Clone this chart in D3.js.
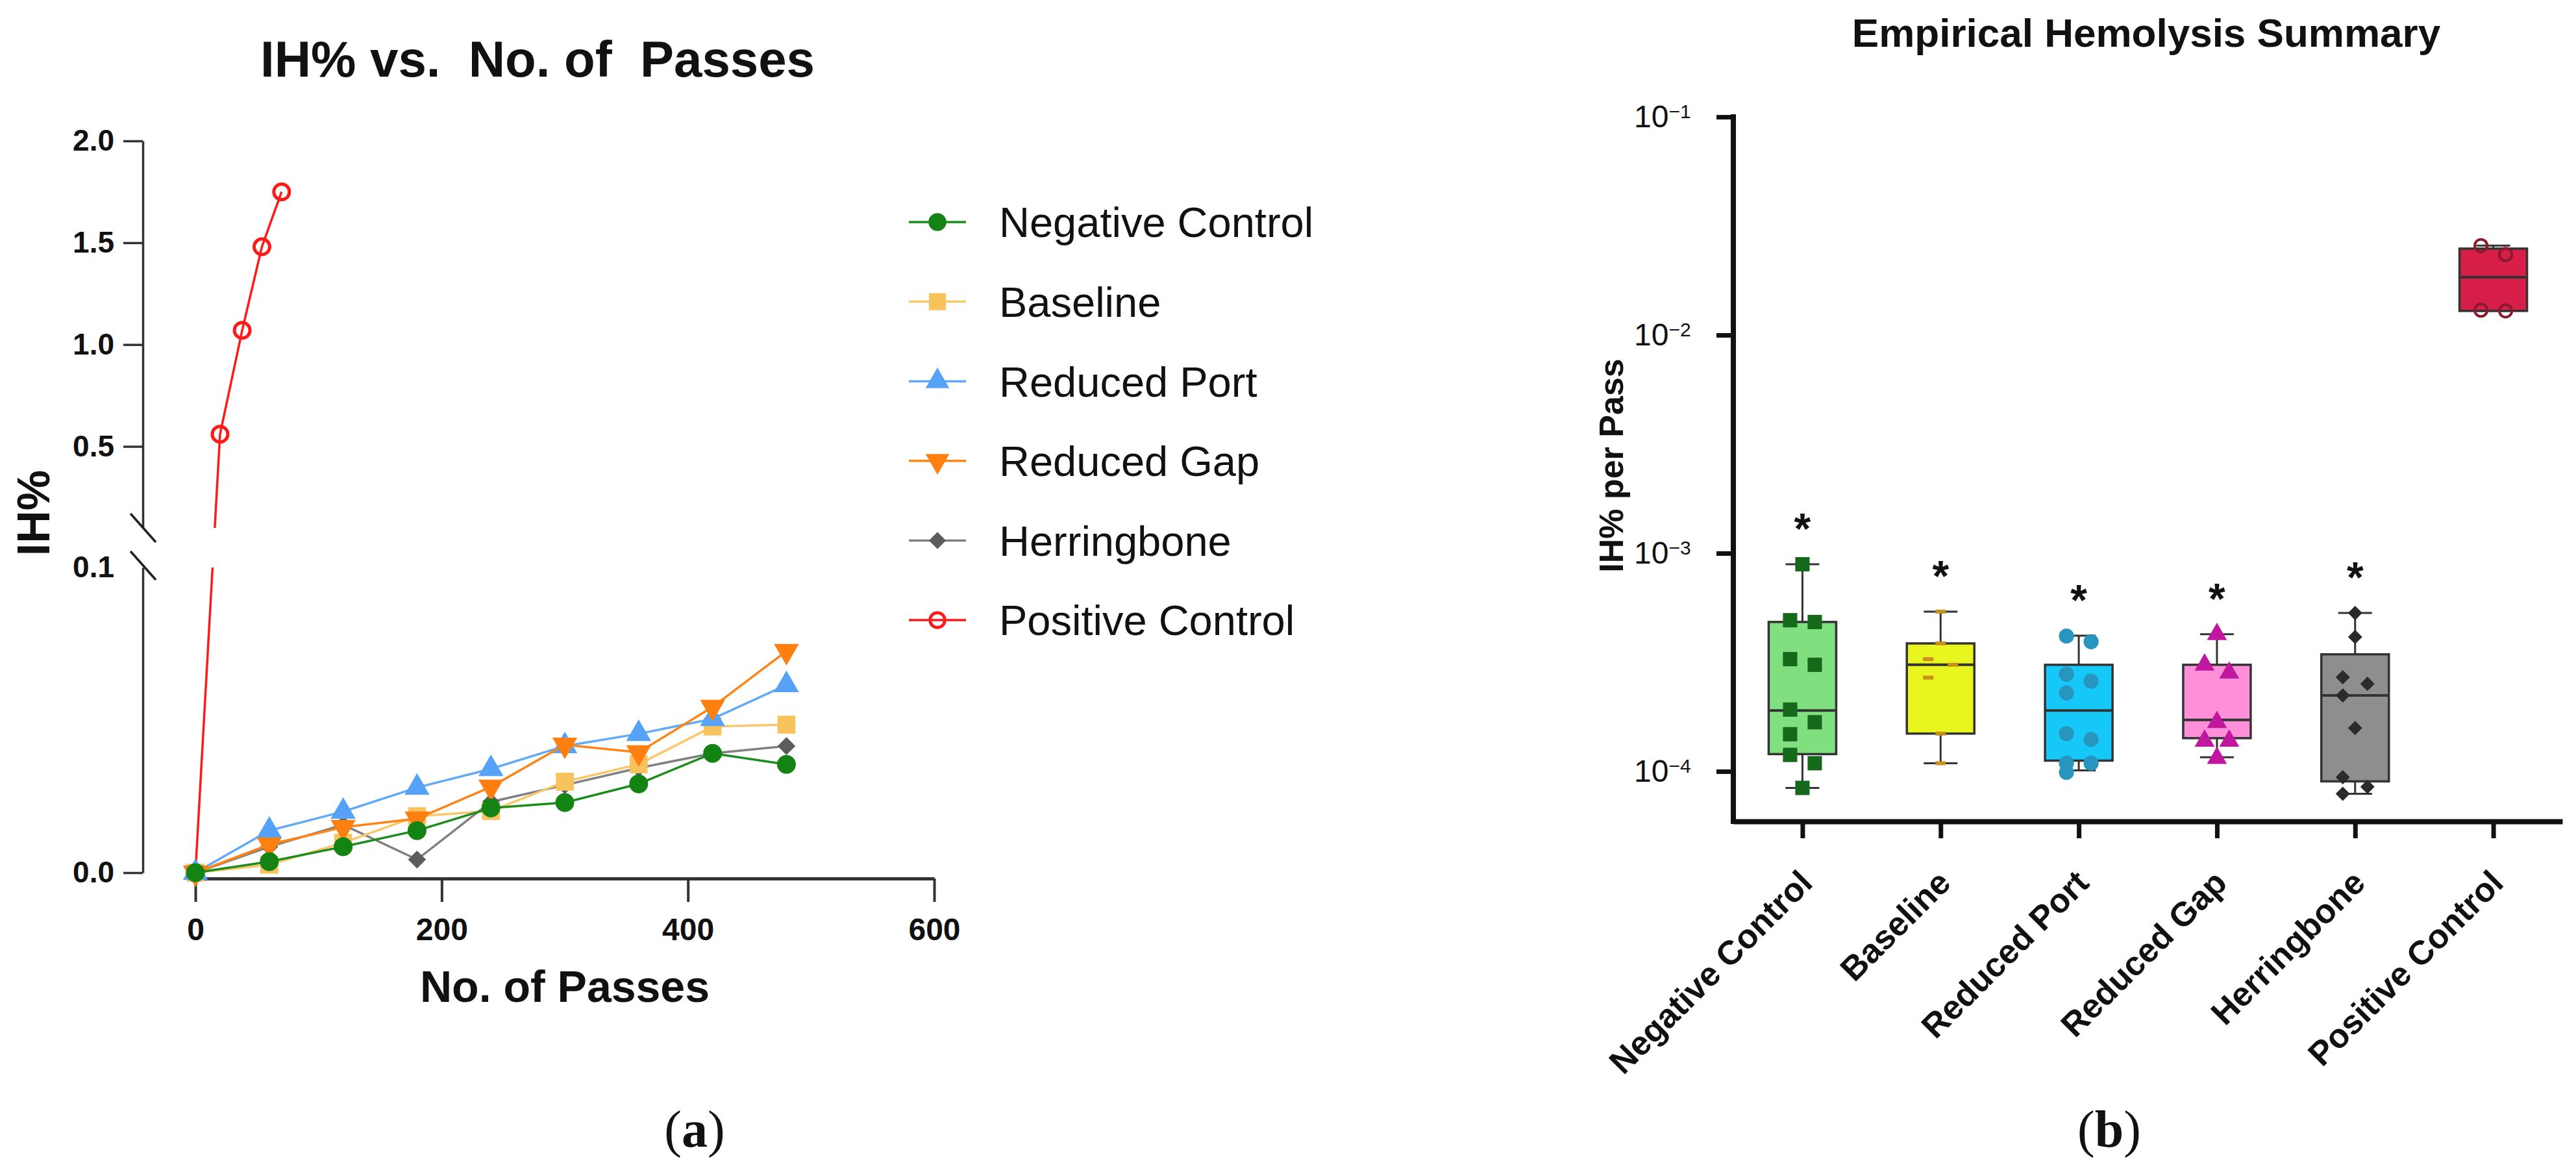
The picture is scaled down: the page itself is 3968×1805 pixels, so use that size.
<!DOCTYPE html>
<html>
<meta charset="utf-8">
<head>
  <title>IH% vs. No. of Passes / Empirical Hemolysis Summary</title>
</head>

<style>
body { margin: 0; background: white; }
text { font-family: "Liberation Sans", Arial, sans-serif; fill: #111; }
.axisL path, .axisL line { stroke: #333; }
.axisR path, .axisR line { stroke: #111; }
</style>

<body>
  <div id="chart"></div>

  <script src="https://d3js.org/d3.v7.min.js"></script>
  <script>

// ---------- panel (a): IH% vs. passes ----------
var passes = [0, 60, 120, 180, 240, 300, 360, 420, 480];
var negativeControl = [0, 0.0036, 0.0085, 0.0138, 0.0212, 0.0230, 0.0291, 0.0391, 0.0355];
var baseline = [0, 0.0026, 0.0098, 0.0185, 0.0202, 0.0298, 0.0355, 0.0479, 0.0485];
var reducedPort = [0, 0.0138, 0.0200, 0.0279, 0.0340, 0.0415, 0.0455, 0.0504, 0.0615];
var reducedGap = [0, 0.0092, 0.0149, 0.0177, 0.0281, 0.0419, 0.0394, 0.0543, 0.0726];
var herringbone = [0, 0.0085, 0.0157, 0.0043, 0.0232, 0.0287, 0.0343, 0.0391, 0.0415];
var positivePasses = [0, 20, 38, 54, 70];
var positiveControl = [0, 0.56, 1.07, 1.48, 1.75];
var upperTicks = [0.5, 1.0, 1.5, 2.0];
var lowerTicks = [0.0, 0.1];
var passTicks = [0, 200, 400, 600];
var legendNames = ["Negative Control", "Baseline", "Reduced Port", "Reduced Gap", "Herringbone", "Positive Control"];

// ---------- panel (b): hemolysis per pass ----------
var groups = ["Negative Control", "Baseline", "Reduced Port", "Reduced Gap", "Herringbone", "Positive Control"];
var whiskerLow = [8.4e-5, 1.09e-4, 1.01e-4, 1.16e-4, 7.9e-5, 1.29e-2];
var quartile1 = [1.20e-4, 1.49e-4, 1.12e-4, 1.42e-4, 9.0e-5, 1.29e-2];
var medians = [1.90e-4, 3.08e-4, 1.90e-4, 1.72e-4, 2.23e-4, 1.84e-2];
var quartile3 = [4.84e-4, 3.86e-4, 3.08e-4, 3.08e-4, 3.44e-4, 2.49e-2];
var whiskerHigh = [8.9e-4, 5.40e-4, 4.19e-4, 4.25e-4, 5.32e-4, 2.57e-2];
var pointsNegative = [8.9e-4, 4.93e-4, 4.84e-4, 3.27e-4, 3.08e-4, 1.92e-4, 1.68e-4, 1.48e-4, 1.19e-4, 1.09e-4, 8.4e-5];
var pointsBaseline = [5.40e-4, 3.86e-4, 3.27e-4, 3.08e-4, 2.69e-4, 1.49e-4, 1.09e-4];
var pointsPort = [4.17e-4, 3.93e-4, 2.79e-4, 2.59e-4, 2.29e-4, 1.49e-4, 1.40e-4, 1.09e-4, 1.09e-4, 9.9e-5];
var pointsGap = [4.25e-4, 3.08e-4, 2.83e-4, 1.68e-4, 1.38e-4, 1.38e-4, 1.15e-4];
var pointsHerring = [5.32e-4, 4.13e-4, 2.70e-4, 2.52e-4, 2.23e-4, 1.58e-4, 9.4e-5, 8.5e-5, 7.9e-5];
var pointsPositive = [2.57e-2, 2.34e-2, 1.30e-2, 1.29e-2];
var significance = ["*", "*", "*", "*", "*", ""];
var logTicks = [1e-4, 1e-3, 1e-2, 1e-1];

var svg = d3.select("#chart").append("svg")
  .attr("width", 3968)
  .attr("height", 1805);

svg.append("rect").attr("width", 3968).attr("height", 1805).attr("fill", "white");

// marker shapes shared by both panels
function addMarker(g, type, color, x, y, k) {
  if (type === "open") {
    g.append("circle").attr("cx", x).attr("cy", y).attr("r", 12 * k)
      .attr("fill", "none").attr("stroke", color).attr("stroke-width", 5 * k);
    return;
  }
  if (type === "dash") {
    g.append("rect").attr("x", x - 8).attr("y", y - 3).attr("width", 16).attr("height", 6)
      .attr("fill", color);
    return;
  }
  var shapes = {
    circle: [d3.symbolCircle, 660, 0],
    square: [d3.symbolSquare, 760, 0],
    triangle: [d3.symbolTriangle, 640, 0],
    down: [d3.symbolTriangle, 640, 180],
    diamond: [d3.symbolSquare, 380, 45]
  };
  var s = shapes[type];
  g.append("path")
    .attr("d", d3.symbol().type(s[0]).size(s[1] * k * k)())
    .attr("transform", "translate(" + x + "," + y + ") rotate(" + s[2] + ")")
    .attr("fill", color);
}

// ================= panel (a) =================
var xL = d3.scaleLinear().domain([0, 600]).range([301, 1439]);
var yUpper = d3.scaleLinear().domain([0.1, 2.0]).range([813, 217]);
var yLower = d3.scaleLinear().domain([0, 0.1]).range([1344, 874]);
function yL(v) { return v > 0.1 ? yUpper(v) : yLower(v); }

svg.append("text")
  .attr("x", 828).attr("y", 118)
  .attr("text-anchor", "middle")
  .style("font-size", "78px").style("font-weight", "bold").style("white-space", "pre")
  .text("IH% vs.  No. of  Passes");

// y axis in two segments
var upperAxis = svg.append("g").attr("class", "axisL")
  .attr("transform", "translate(220,0)")
  .call(d3.axisLeft(yUpper).tickValues(upperTicks).tickSize(30).tickSizeOuter(0)
    .tickPadding(14).tickFormat(d3.format(".1f")));
var lowerAxis = svg.append("g").attr("class", "axisL")
  .attr("transform", "translate(220,0)")
  .call(d3.axisLeft(yLower).tickValues(lowerTicks).tickSize(30).tickSizeOuter(0)
    .tickPadding(14).tickFormat(d3.format(".1f")));
lowerAxis.selectAll(".tick").filter(function(d) { return d > 0; }).select("line").remove();

svg.selectAll(".axisL path, .axisL line").attr("stroke-width", 3.5);
svg.selectAll(".axisL text")
  .style("font-size", "46px").style("font-weight", "bold").attr("fill", "#111");

// break marks
[yUpper(0.1), yLower(0.1) - 3].forEach(function(yb) {
  svg.append("line")
    .attr("x1", 201).attr("y1", yb - 22).attr("x2", 240).attr("y2", yb + 22)
    .attr("stroke", "#222").attr("stroke-width", 3.5);
});

var xAxisL = svg.append("g").attr("class", "axisL")
  .attr("transform", "translate(0,1353)")
  .call(d3.axisBottom(xL).tickValues(passTicks).tickSize(36).tickSizeOuter(0).tickPadding(25));
xAxisL.select(".domain").attr("stroke-width", 5);
xAxisL.selectAll("line").attr("stroke-width", 4);
xAxisL.selectAll("text").style("font-size", "48px").style("font-weight", "bold").attr("fill", "#111");

svg.append("text")
  .attr("transform", "translate(76,790) rotate(-90)")
  .attr("text-anchor", "middle")
  .style("font-size", "70px").style("font-weight", "bold")
  .text("IH%");

svg.append("text")
  .attr("x", 870).attr("y", 1543)
  .attr("text-anchor", "middle")
  .style("font-size", "68px").style("font-weight", "bold")
  .text("No. of Passes");

// clip away the axis break region
var clip = svg.append("defs").append("clipPath").attr("id", "brokenAxis");
clip.append("rect").attr("x", 225).attr("y", 150).attr("width", 1300).attr("height", yUpper(0.1) - 150);
clip.append("rect").attr("x", 225).attr("y", yLower(0.1)).attr("width", 1300).attr("height", 1420 - yLower(0.1));

var lineSeries = [
  {name: "Positive Control", x: positivePasses, y: positiveControl, line: "#ff1a1a", fill: "#ff1a1a", marker: "open"},
  {name: "Herringbone", x: passes, y: herringbone, line: "#808080", fill: "#5c5c5c", marker: "diamond"},
  {name: "Baseline", x: passes, y: baseline, line: "#f9c76a", fill: "#f8c25c", marker: "square"},
  {name: "Reduced Port", x: passes, y: reducedPort, line: "#62a9f7", fill: "#55a2f6", marker: "triangle"},
  {name: "Reduced Gap", x: passes, y: reducedGap, line: "#ff8418", fill: "#ff7f10", marker: "down"},
  {name: "Negative Control", x: passes, y: negativeControl, line: "#1c8c1c", fill: "#138413", marker: "circle"}
];

var plotA = svg.append("g").attr("clip-path", "url(#brokenAxis)");
var lineGen = d3.line().x(function(d) { return xL(d[0]); }).y(function(d) { return yL(d[1]); });

lineSeries.forEach(function(s) {
  var pts = d3.zip(s.x, s.y);
  plotA.append("path")
    .attr("d", lineGen(pts))
    .attr("fill", "none")
    .attr("stroke", s.line)
    .attr("stroke-width", 3.5);
  pts.forEach(function(p) {
    addMarker(plotA, s.marker, s.fill, xL(p[0]), yL(p[1]), 1);
  });
});

// legend
var legend = svg.append("g");
legendNames.forEach(function(name, i) {
  var s = lineSeries.find(function(d) { return d.name === name; });
  var ly = 342 + i * 122.6;
  legend.append("line")
    .attr("x1", 1400).attr("x2", 1488).attr("y1", ly).attr("y2", ly)
    .attr("stroke", s.line).attr("stroke-width", 3.5);
  addMarker(legend, s.marker, s.fill, 1444, ly, 0.95);
  legend.append("text")
    .attr("x", 1539).attr("y", ly).attr("dy", "0.36em")
    .style("font-size", "65px")
    .text(name);
});

svg.append("text")
  .attr("x", 1070).attr("y", 1766)
  .attr("text-anchor", "middle")
  .style("font-family", "'Liberation Serif', 'Times New Roman', serif")
  .style("font-size", "80px")
  .html('(<tspan font-weight="bold">a</tspan>)');

// ================= panel (b) =================
var xR = d3.scalePoint().domain(groups).range([2670, 3947]).padding(0.5);
var yR = d3.scaleLog().domain([5.9e-5, 0.1]).range([1265, 180]);

svg.append("text")
  .attr("x", 3306).attr("y", 72)
  .attr("text-anchor", "middle")
  .style("font-size", "62px").style("font-weight", "bold")
  .text("Empirical Hemolysis Summary");

var yAxisR = svg.append("g").attr("class", "axisR")
  .attr("transform", "translate(2670,0)")
  .call(d3.axisLeft(yR).tickValues(logTicks).tickSize(26).tickSizeOuter(0).tickPadding(13)
    .tickFormat(function() { return "10"; }));
yAxisR.select(".domain").attr("stroke-width", 8).attr("d", "M0," + (yR(0.1) - 4) + "V1269");
yAxisR.selectAll(".tick line").attr("stroke-width", 7);
yAxisR.selectAll(".tick text")
  .style("font-size", "48px")
  .attr("dx", "-0.55em")
  .each(function(d) {
    d3.select(this).append("tspan")
      .attr("dy", "-0.45em")
      .style("font-size", "30px")
      .text(d3.format("d")(Math.round(Math.log10(d))));
  });

var xAxisR = svg.append("g").attr("class", "axisR")
  .attr("transform", "translate(0,1265)")
  .call(d3.axisBottom(xR).tickSize(26).tickSizeOuter(0));
xAxisR.select(".domain").attr("stroke-width", 8);
xAxisR.selectAll(".tick line").attr("stroke-width", 7);
xAxisR.selectAll(".tick text")
  .attr("x", 0).attr("y", 0).attr("dy", "0.35em")
  .attr("transform", "translate(5,85) rotate(-45)")
  .attr("text-anchor", "end")
  .style("font-size", "52px").style("font-weight", "bold");

svg.append("text")
  .attr("transform", "translate(2500,717) rotate(-90)")
  .attr("text-anchor", "middle")
  .style("font-size", "52px").style("font-weight", "bold")
  .text("IH% per Pass");

var boxStyle = [
  {fill: "#80e080", point: "#16681a", marker: "square", points: pointsNegative},
  {fill: "#e9f51e", point: "#c8911a", marker: "dash", points: pointsBaseline},
  {fill: "#16c8f8", point: "#2795bd", marker: "circle", points: pointsPort},
  {fill: "#ff8fd9", point: "#c0179e", marker: "triangle", points: pointsGap},
  {fill: "#8e8e8e", point: "#2b2b2b", marker: "diamond", points: pointsHerring},
  {fill: "#d71e48", point: "#8c1a2e", marker: "open", points: pointsPositive}
];

// simple swarm: neighbouring points alternate left/right
function swarm(values, offset, gap) {
  var ys = values.map(function(v) { return yR(v); });
  var order = d3.range(ys.length).sort(function(a, b) { return ys[a] - ys[b]; });
  var dx = new Array(ys.length).fill(0);
  var cluster = [];
  function flush() {
    if (cluster.length > 1) {
      cluster.forEach(function(idx, j) { dx[idx] = (j % 2 === 0 ? -offset : offset); });
    }
    cluster = [];
  }
  order.forEach(function(idx, j) {
    if (j > 0 && ys[idx] - ys[order[j - 1]] > gap) flush();
    cluster.push(idx);
  });
  flush();
  return ys.map(function(y, i) { return [dx[i], y]; });
}

var boxW = 104, capW = 52;
var plotB = svg.append("g");
groups.forEach(function(name, i) {
  var cx = xR(name);
  var st = boxStyle[i];
  var g = plotB.append("g");
  // whiskers
  g.append("line").attr("x1", cx).attr("x2", cx)
    .attr("y1", yR(whiskerHigh[i])).attr("y2", yR(quartile3[i]))
    .attr("stroke", "#333").attr("stroke-width", 3);
  g.append("line").attr("x1", cx).attr("x2", cx)
    .attr("y1", yR(quartile1[i])).attr("y2", yR(whiskerLow[i]))
    .attr("stroke", "#333").attr("stroke-width", 3);
  [whiskerHigh[i], whiskerLow[i]].forEach(function(v) {
    g.append("line").attr("x1", cx - capW / 2).attr("x2", cx + capW / 2)
      .attr("y1", yR(v)).attr("y2", yR(v))
      .attr("stroke", "#333").attr("stroke-width", 3);
  });
  // box
  g.append("rect")
    .attr("x", cx - boxW / 2).attr("width", boxW)
    .attr("y", yR(quartile3[i])).attr("height", yR(quartile1[i]) - yR(quartile3[i]))
    .attr("fill", st.fill).attr("stroke", "#333").attr("stroke-width", 3.5);
  g.append("line")
    .attr("x1", cx - boxW / 2).attr("x2", cx + boxW / 2)
    .attr("y1", yR(medians[i])).attr("y2", yR(medians[i]))
    .attr("stroke", "#333").attr("stroke-width", 4);
  // points
  swarm(st.points, 19, 24).forEach(function(p) {
    addMarker(g, st.marker, st.point, cx + p[0], p[1], 0.8);
  });
  // significance mark
  if (significance[i]) {
    g.append("text")
      .attr("x", cx).attr("y", yR(whiskerHigh[i]) - 70 + 38)
      .attr("text-anchor", "middle")
      .style("font-size", "66px").style("font-weight", "bold")
      .text(significance[i]);
  }
});

svg.append("text")
  .attr("x", 3249).attr("y", 1766)
  .attr("text-anchor", "middle")
  .style("font-family", "'Liberation Serif', 'Times New Roman', serif")
  .style("font-size", "80px")
  .html('(<tspan font-weight="bold">b</tspan>)');

  </script>
</body>
</html>
